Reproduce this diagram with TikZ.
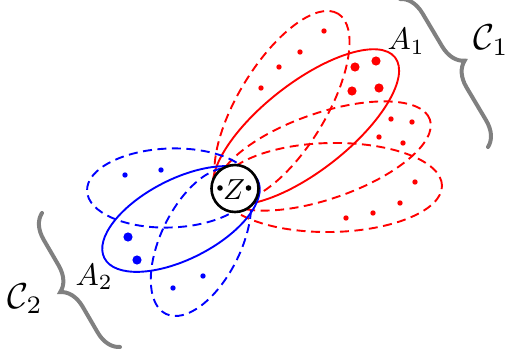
\documentclass[tikz,border=0pt]{standalone}
\usetikzlibrary{decorations.pathreplacing}
\begin{document}
\begin{tikzpicture}[x=1pt,y=-1pt,
  redsolid/.style={draw=red, line width=1.9pt},
  reddash/.style={draw=red, line width=1.9pt, dash pattern=on 9pt off 5.5pt},
  bluesolid/.style={draw=blue, line width=1.9pt},
  bluedash/.style={draw=blue, line width=1.9pt, dash pattern=on 9pt off 5.5pt},
  bracestyle/.style={draw=gray, line width=4pt, line cap=round, decorate, decoration={brace, amplitude=24pt}},
  zlab/.style={scale=2.9, inner sep=0pt},
  lab/.style={scale=3.1, inner sep=0pt},
  biglab/.style={scale=3.6, inner sep=0pt}]
\useasboundingbox (0,0) rectangle (507,353);
% red ellipses
\draw[reddash, rotate around={1:(331,187.5)}] (331,187.5) ellipse[x radius=111pt, y radius=44.5pt];
\draw[reddash, rotate around={19:(324,156)}] (324,156) ellipse[x radius=112pt, y radius=43pt];
\draw[reddash, rotate around={58.7:(282,106)}] (282,106) ellipse[x radius=108pt, y radius=44pt];
\draw[redsolid, rotate around={38:(306,127)}] (306,127) ellipse[x radius=113pt, y radius=44pt];
% blue ellipses
\draw[bluedash, rotate around={2:(170,188)}] (170,188) ellipse[x radius=83pt, y radius=39.5pt];
\draw[bluedash, rotate around={64:(201,242)}] (201,242) ellipse[x radius=80pt, y radius=40pt];
\draw[bluesolid, rotate around={27:(181,219)}] (181,219) ellipse[x radius=86pt, y radius=40pt];
% Z
\node[circle, draw=black, fill=white, line width=2.6pt, minimum size=47pt, inner sep=0pt] (Z) at (235,188.5) {};
\node[zlab] (zl) at (234,189.5) {$Z$};
\fill (220,188) circle[radius=2.8pt];
\fill (248.5,188) circle[radius=2.8pt];
% red dots
\foreach \p in {(355,67),(376,61),(352,91),(379,88)} \fill[red] \p circle[radius=4.6pt];
\foreach \p in {(324,31),(300,52),(279,67),(261,88),(391,119),(412,122),(379,137),(403,143),(415,182),(400,203),(373,213),(346,218)} \fill[red] \p circle[radius=2.7pt];
% blue dots
\foreach \p in {(128,237),(137,260)} \fill[blue] \p circle[radius=4.6pt];
\foreach \p in {(125,175),(161,170),(203,276),(173,288)} \fill[blue] \p circle[radius=2.7pt];
% braces
\coordinate (b1s) at (400,-1);
\coordinate (b1e) at (488,147);
\coordinate (b2s) at (120,347);
\coordinate (b2e) at (42,213);
\draw[bracestyle] (b1s) -- (b1e);
\draw[bracestyle] (b2s) -- (b2e);
% labels
\node[lab, anchor=base west] (a1) at (387,50) {$A_1$};
\node[lab, anchor=base west] (a2) at (75,285) {$A_2$};
\node[biglab, anchor=base west] (c1) at (473,50) {$\mathcal{C}_1$};
\node[biglab, anchor=base west] (c2) at (7,308) {$\mathcal{C}_2$};
\end{tikzpicture}
\end{document}
